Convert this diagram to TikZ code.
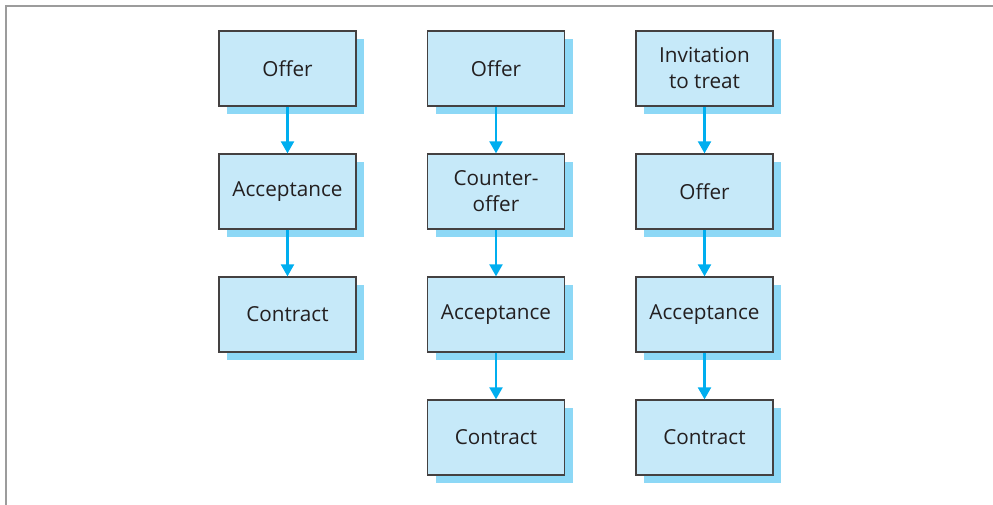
\documentclass[tikz,border=0pt]{standalone}
\usepackage{fontspec}
\setmainfont{Open Sans}
\usetikzlibrary{arrows.meta,shadows}
\definecolor{boxfill}{HTML}{C6E9F9}
\definecolor{shadowblue}{HTML}{8DD8F6}
\definecolor{arrowblue}{HTML}{00AEEF}
\definecolor{framegray}{HTML}{9C9C9C}
\definecolor{txt}{HTML}{231F20}
\tikzset{
  stepbox/.style={draw=txt!85, line width=1.3pt, fill=boxfill, minimum width=137pt, minimum height=75pt,
    inner sep=2pt, align=center, font=\fontsize{20.7}{26}\selectfont, text=txt,
    general shadow={fill=shadowblue, shadow xshift=8pt, shadow yshift=-8pt}},
  flow/.style={draw=arrowblue, line width=2.2pt, -{Triangle[width=13pt,length=12pt]}},
}
\begin{document}
\begin{tikzpicture}[x=1pt,y=-1pt]
\useasboundingbox (0,0) rectangle (993,505);
\coordinate (fa) at (6,505);
\coordinate (fb) at (6,6);
\coordinate (fc) at (993,6);
\draw[framegray, line width=2.6pt] (fa) -- (fb) -- (fc);
% column 1
\node[stepbox] (a1) at (287.5,68.5) {Offer};
\node[stepbox] (a2) at (287.5,191.5) {Acceptance};
\node[stepbox] (a3) at (287.5,314.5) {Contract};
% column 2
\node[stepbox] (b1) at (496,68.5) {Offer};
\node[stepbox] (b2) at (496,191.5) {Counter-\\offer};
\node[stepbox] (b3) at (496,314.5) {Acceptance};
\node[stepbox] (b4) at (496,437.5) {Contract};
% column 3
\node[stepbox] (c1) at (704.5,68.5) {Invitation\\to treat};
\node[stepbox] (c2) at (704.5,191.5) {Offer};
\node[stepbox] (c3) at (704.5,314.5) {Acceptance};
\node[stepbox] (c4) at (704.5,437.5) {Contract};
\draw[flow] (a1) -- (a2);
\draw[flow] (a2) -- (a3);
\draw[flow] (b1) -- (b2);
\draw[flow] (b2) -- (b3);
\draw[flow] (b3) -- (b4);
\draw[flow] (c1) -- (c2);
\draw[flow] (c2) -- (c3);
\draw[flow] (c3) -- (c4);
\end{tikzpicture}
\end{document}
